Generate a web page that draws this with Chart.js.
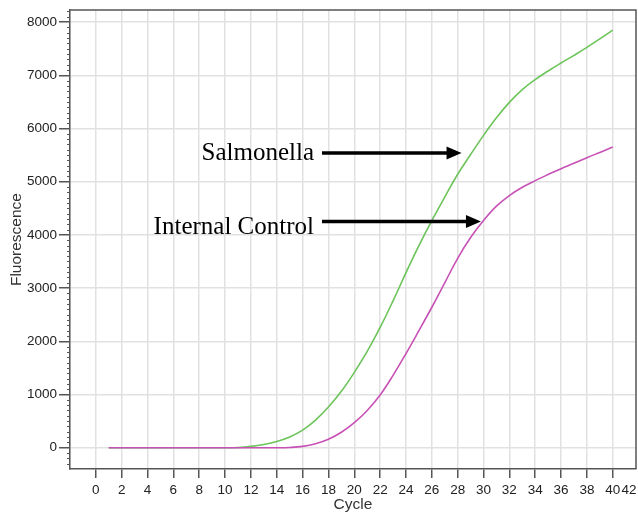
<!DOCTYPE html>
<html lang="en">

<head>
    <meta charset="UTF-8">
    <title>Amplification curves</title>
    <script src="https://cdn.jsdelivr.net/npm/chart.js"></script>
    <style>
        html, body { margin: 0; padding: 0; background: #fff; }
        #wrap { width: 638px; height: 516px; }
    </style>
</head>

<body>
    <div id="wrap">
        <canvas id="ampChart" width="638" height="516"></canvas>
    </div>

    <script>
        // Amplification data, one value per cycle
        const cycles = [1, 2, 3, 4, 5, 6, 7, 8, 9, 10, 11, 12, 13, 14, 15, 16, 17, 18, 19, 20,
            21, 22, 23, 24, 25, 26, 27, 28, 29, 30, 31, 32, 33, 34, 35, 36, 37, 38, 39, 40];
        const salmonella = [0, 0, 0, 0, 0, 0, 0, 0, 0, 0,
            5, 25, 60, 115, 200, 330, 520, 765, 1060, 1415,
            1810, 2260, 2760, 3290, 3800, 4270, 4710, 5140, 5510, 5870,
            6200, 6490, 6730, 6920, 7080, 7230, 7375, 7525, 7685, 7850];
        const internalControl = [0, 0, 0, 0, 0, 0, 0, 0, 0, 0, 0, 0, 0, 0,
            5, 25, 75, 160, 290, 470, 700, 990, 1360, 1770,
            2200, 2640, 3100, 3560, 3950, 4270, 4540, 4740, 4895, 5020,
            5135, 5245, 5345, 5450, 5550, 5650];

        // axis tick values
        const yTicks = [0, 1000, 2000, 3000, 4000, 5000, 6000, 7000, 8000];

        // callouts: label, arrow start / end (cycle) and level (fluorescence)
        const calloutLabels = ['Salmonella', 'Internal Control'];
        const calloutFrom = [17.5, 17.5];
        const calloutTo = [28.3, 29.8];
        const calloutLevel = [5540, 4250];

        const toPoints = (ys) => cycles.map((c, i) => ({ x: c, y: ys[i] }));

        const AXIS = '#555';
        const GRID = '#e1e1e1';
        const TICK_FONT = { family: 'Liberation Sans, Arial, sans-serif', size: 13.5 };
        const TITLE_FONT = { family: 'Liberation Sans, Arial, sans-serif', size: 15.5 };

        // box, minor ticks, last x label and the arrows
        const decorations = {
            id: 'decorations',
            afterDraw(chart) {
                const { ctx, chartArea: a, scales: { x, y } } = chart;
                ctx.save();

                // top and right edges of the frame
                ctx.strokeStyle = AXIS;
                ctx.lineWidth = 1.5;
                ctx.beginPath();
                ctx.moveTo(a.left, a.top);
                ctx.lineTo(a.right, a.top);
                ctx.lineTo(a.right, a.bottom);
                ctx.stroke();

                // minor ticks every 100 on the y axis
                ctx.lineWidth = 1;
                ctx.beginPath();
                for (let v = -300; v <= 8200; v += 100) {
                    if (v % 1000 === 0) continue;
                    const py = Math.round(y.getPixelForValue(v)) + 0.5;
                    ctx.moveTo(a.left - 3, py);
                    ctx.lineTo(a.left, py);
                }
                ctx.stroke();

                // "42" sits at the right edge, nudged inside
                const items = x.getLabelItems();
                const ref = items[items.length - 1];
                ctx.font = '13.5px "Liberation Sans", Arial, sans-serif';
                ctx.fillStyle = '#222';
                ctx.textAlign = 'center';
                ctx.textBaseline = ref.options.textBaseline;
                ctx.fillText('42', a.right - 7, ref.options.translation[1] + ref.textOffset);

                // arrows with their labels
                ctx.fillStyle = '#000';
                ctx.strokeStyle = '#000';
                ctx.font = '25px "Liberation Serif", "Times New Roman", serif';
                ctx.textAlign = 'right';
                ctx.textBaseline = 'alphabetic';
                calloutLabels.forEach((label, i) => {
                    const x0 = x.getPixelForValue(calloutFrom[i]);
                    const x1 = x.getPixelForValue(calloutTo[i]);
                    const py = y.getPixelForValue(calloutLevel[i]);
                    ctx.lineWidth = 3.5;
                    ctx.beginPath();
                    ctx.moveTo(x0, py);
                    ctx.lineTo(x1 - 12, py);
                    ctx.stroke();
                    ctx.beginPath();
                    ctx.moveTo(x1, py);
                    ctx.lineTo(x1 - 15, py - 6.5);
                    ctx.lineTo(x1 - 15, py + 6.5);
                    ctx.closePath();
                    ctx.fill();
                    ctx.fillText(label, x0 - 8, py + (i === 0 ? 7 : 12));
                });

                ctx.restore();
            }
        };

        const ctx = document.getElementById('ampChart').getContext('2d');
        const chart = new Chart(ctx, {
            type: 'line',
            data: {
                datasets: [
                    {
                        label: 'Internal Control',
                        data: toPoints(internalControl),
                        borderColor: '#c851b6',
                        borderWidth: 1.6,
                        pointRadius: 0,
                        tension: 0.4,
                        fill: false
                    },
                    {
                        label: 'Salmonella',
                        data: toPoints(salmonella),
                        borderColor: '#6cc45a',
                        borderWidth: 1.6,
                        pointRadius: 0,
                        tension: 0.4,
                        fill: false
                    }
                ]
            },
            options: {
                responsive: false,
                animation: false,
                layout: { padding: { top: 6, right: 2, left: 0, bottom: 0 } },
                plugins: {
                    legend: { display: false },
                    tooltip: { enabled: false }
                },
                scales: {
                    x: {
                        type: 'linear',
                        min: -2,
                        max: 41.8,
                        afterFit: (s) => { s.height = 47; },
                        border: { color: AXIS, width: 1.5 },
                        grid: {
                            color: GRID,
                            lineWidth: 1.5,
                            tickLength: 9,
                            tickColor: (c) => (c.tick && c.tick.value === -2 ? 'rgba(0,0,0,0)' : AXIS),
                            tickWidth: 1.5
                        },
                        ticks: {
                            stepSize: 2,
                            includeBounds: false,
                            autoSkip: false,
                            maxRotation: 0,
                            padding: 4,
                            color: '#222',
                            font: TICK_FONT,
                            callback: (v) => (v === -2 ? '' : v)
                        },
                        title: {
                            display: true,
                            text: 'Cycle',
                            color: '#333',
                            font: TITLE_FONT,
                            padding: { top: 0, bottom: 2 }
                        }
                    },
                    y: {
                        min: -400,
                        max: 8225,
                        afterFit: (s) => { s.width = 70; },
                        afterBuildTicks: (s) => { s.ticks = yTicks.map((v) => ({ value: v })); },
                        border: { color: AXIS, width: 1.5 },
                        grid: {
                            color: GRID,
                            lineWidth: 1.5,
                            tickLength: 11,
                            tickColor: AXIS,
                            tickWidth: 1.5
                        },
                        ticks: {
                            padding: 2,
                            color: '#222',
                            font: TICK_FONT,
                            callback: (v) => String(v)
                        },
                        title: {
                            display: true,
                            text: 'Fluorescence',
                            color: '#333',
                            font: TITLE_FONT,
                            padding: { top: 7, bottom: 0 }
                        }
                    }
                }
            },
            plugins: [decorations]
        });
    </script>
</body>

</html>
